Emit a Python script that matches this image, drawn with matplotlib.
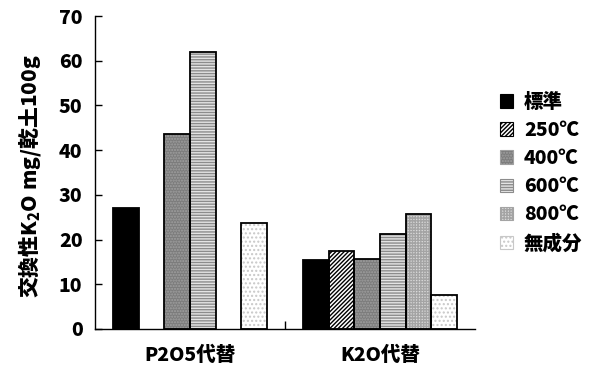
import matplotlib
matplotlib.use("Agg")
import matplotlib.pyplot as plt
import matplotlib.patches as mpatches
import numpy as np

plt.rcParams['font.family'] = ['Noto Sans CJK JP', 'DejaVu Sans']
plt.rcParams['font.weight'] = 'heavy'
plt.rcParams['mathtext.fontset'] = 'custom'
plt.rcParams['mathtext.rm'] = 'Noto Sans CJK JP:heavy'
plt.rcParams['mathtext.default'] = 'rm'
plt.rcParams['hatch.linewidth'] = 1.0

categories = ['P2O5代替', 'K2O代替']
series = ['標準', '250℃', '400℃', '600℃', '800℃', '無成分']
values = {
    '標準':  [27.0, 15.4],
    '250℃': [np.nan, 17.4],
    '400℃': [43.5, 15.6],
    '600℃': [61.9, 21.2],
    '800℃': [np.nan, 25.7],
    '無成分': [23.6, 7.5],
}
yticks = [0, 10, 20, 30, 40, 50, 60, 70]

styles = {
    '標準':  dict(fc='#000000', hatch=None, hc='#000000'),
    '250℃': dict(fc='#ffffff', hatch='////////', hc='#000000'),
    '400℃': dict(fc='#7c7c7c', hatch='......', hc='#a0a0a0'),
    '600℃': dict(fc='#e4e4e4', hatch='------', hc='#8c8c8c'),
    '800℃': dict(fc='#dadada', hatch='++++++', hc='#a4a4a4'),
    '無成分': dict(fc='#ffffff', hatch='....', hc='#c8c8c8'),
}

fig = plt.figure(figsize=(5.92, 3.72), dpi=100)
ax = fig.add_axes([95/592, 1-329/372, 380/592, 313/372])

n = len(series)
w = 1/7.4
x = np.arange(len(categories))
handles = []
for i, s in enumerate(series):
    st = styles[s]
    pos = x + (i - (n-1)/2) * w
    v = np.array(values[s], dtype=float)
    ax.bar(pos, v, width=w, color=st['fc'], hatch=st['hatch'],
           edgecolor=st['hc'], linewidth=0, zorder=2)
    ax.bar(pos, v, width=w, fill=False, edgecolor='black', linewidth=1.3, zorder=3)
    handles.append(mpatches.Patch(facecolor=st['fc'], hatch=st['hatch'],
                                  edgecolor=st['hc'], linewidth=0.8))

ax.set_xlim(-0.5, len(categories)-0.5)
ax.set_ylim(0, 70)
ax.set_yticks(yticks)
ax.tick_params(axis='y', direction='in', length=5, width=1, labelsize=14, pad=9)
ax.set_xticks([0.5])
ax.set_xticklabels([''])
ax.tick_params(axis='x', direction='in', length=6, width=1)
for lab in ax.get_yticklabels():
    lab.set_fontweight('heavy')
for k, c in enumerate(categories):
    ax.text(k, -5.8, c, ha='center', va='center', fontsize=14, fontweight='heavy')

ax.spines['top'].set_visible(False)
ax.spines['right'].set_visible(False)
ax.spines['left'].set_linewidth(1)
ax.spines['bottom'].set_linewidth(1)

fig.text(30/592, 1-176/372, '交換性K$_2$O mg/乾土100g', rotation=90, ha='center', va='center',
         fontsize=15, fontweight='heavy')

leg = fig.legend(handles, series, loc='center left', bbox_to_anchor=(490/592, 1-173/372),
                 frameon=False, fontsize=14, handlelength=0.7, handleheight=0.7,
                 handletextpad=0.55, labelspacing=0.47, borderpad=0)
for t in leg.get_texts():
    t.set_fontweight('heavy')

fig.savefig('out.png', dpi=100)
